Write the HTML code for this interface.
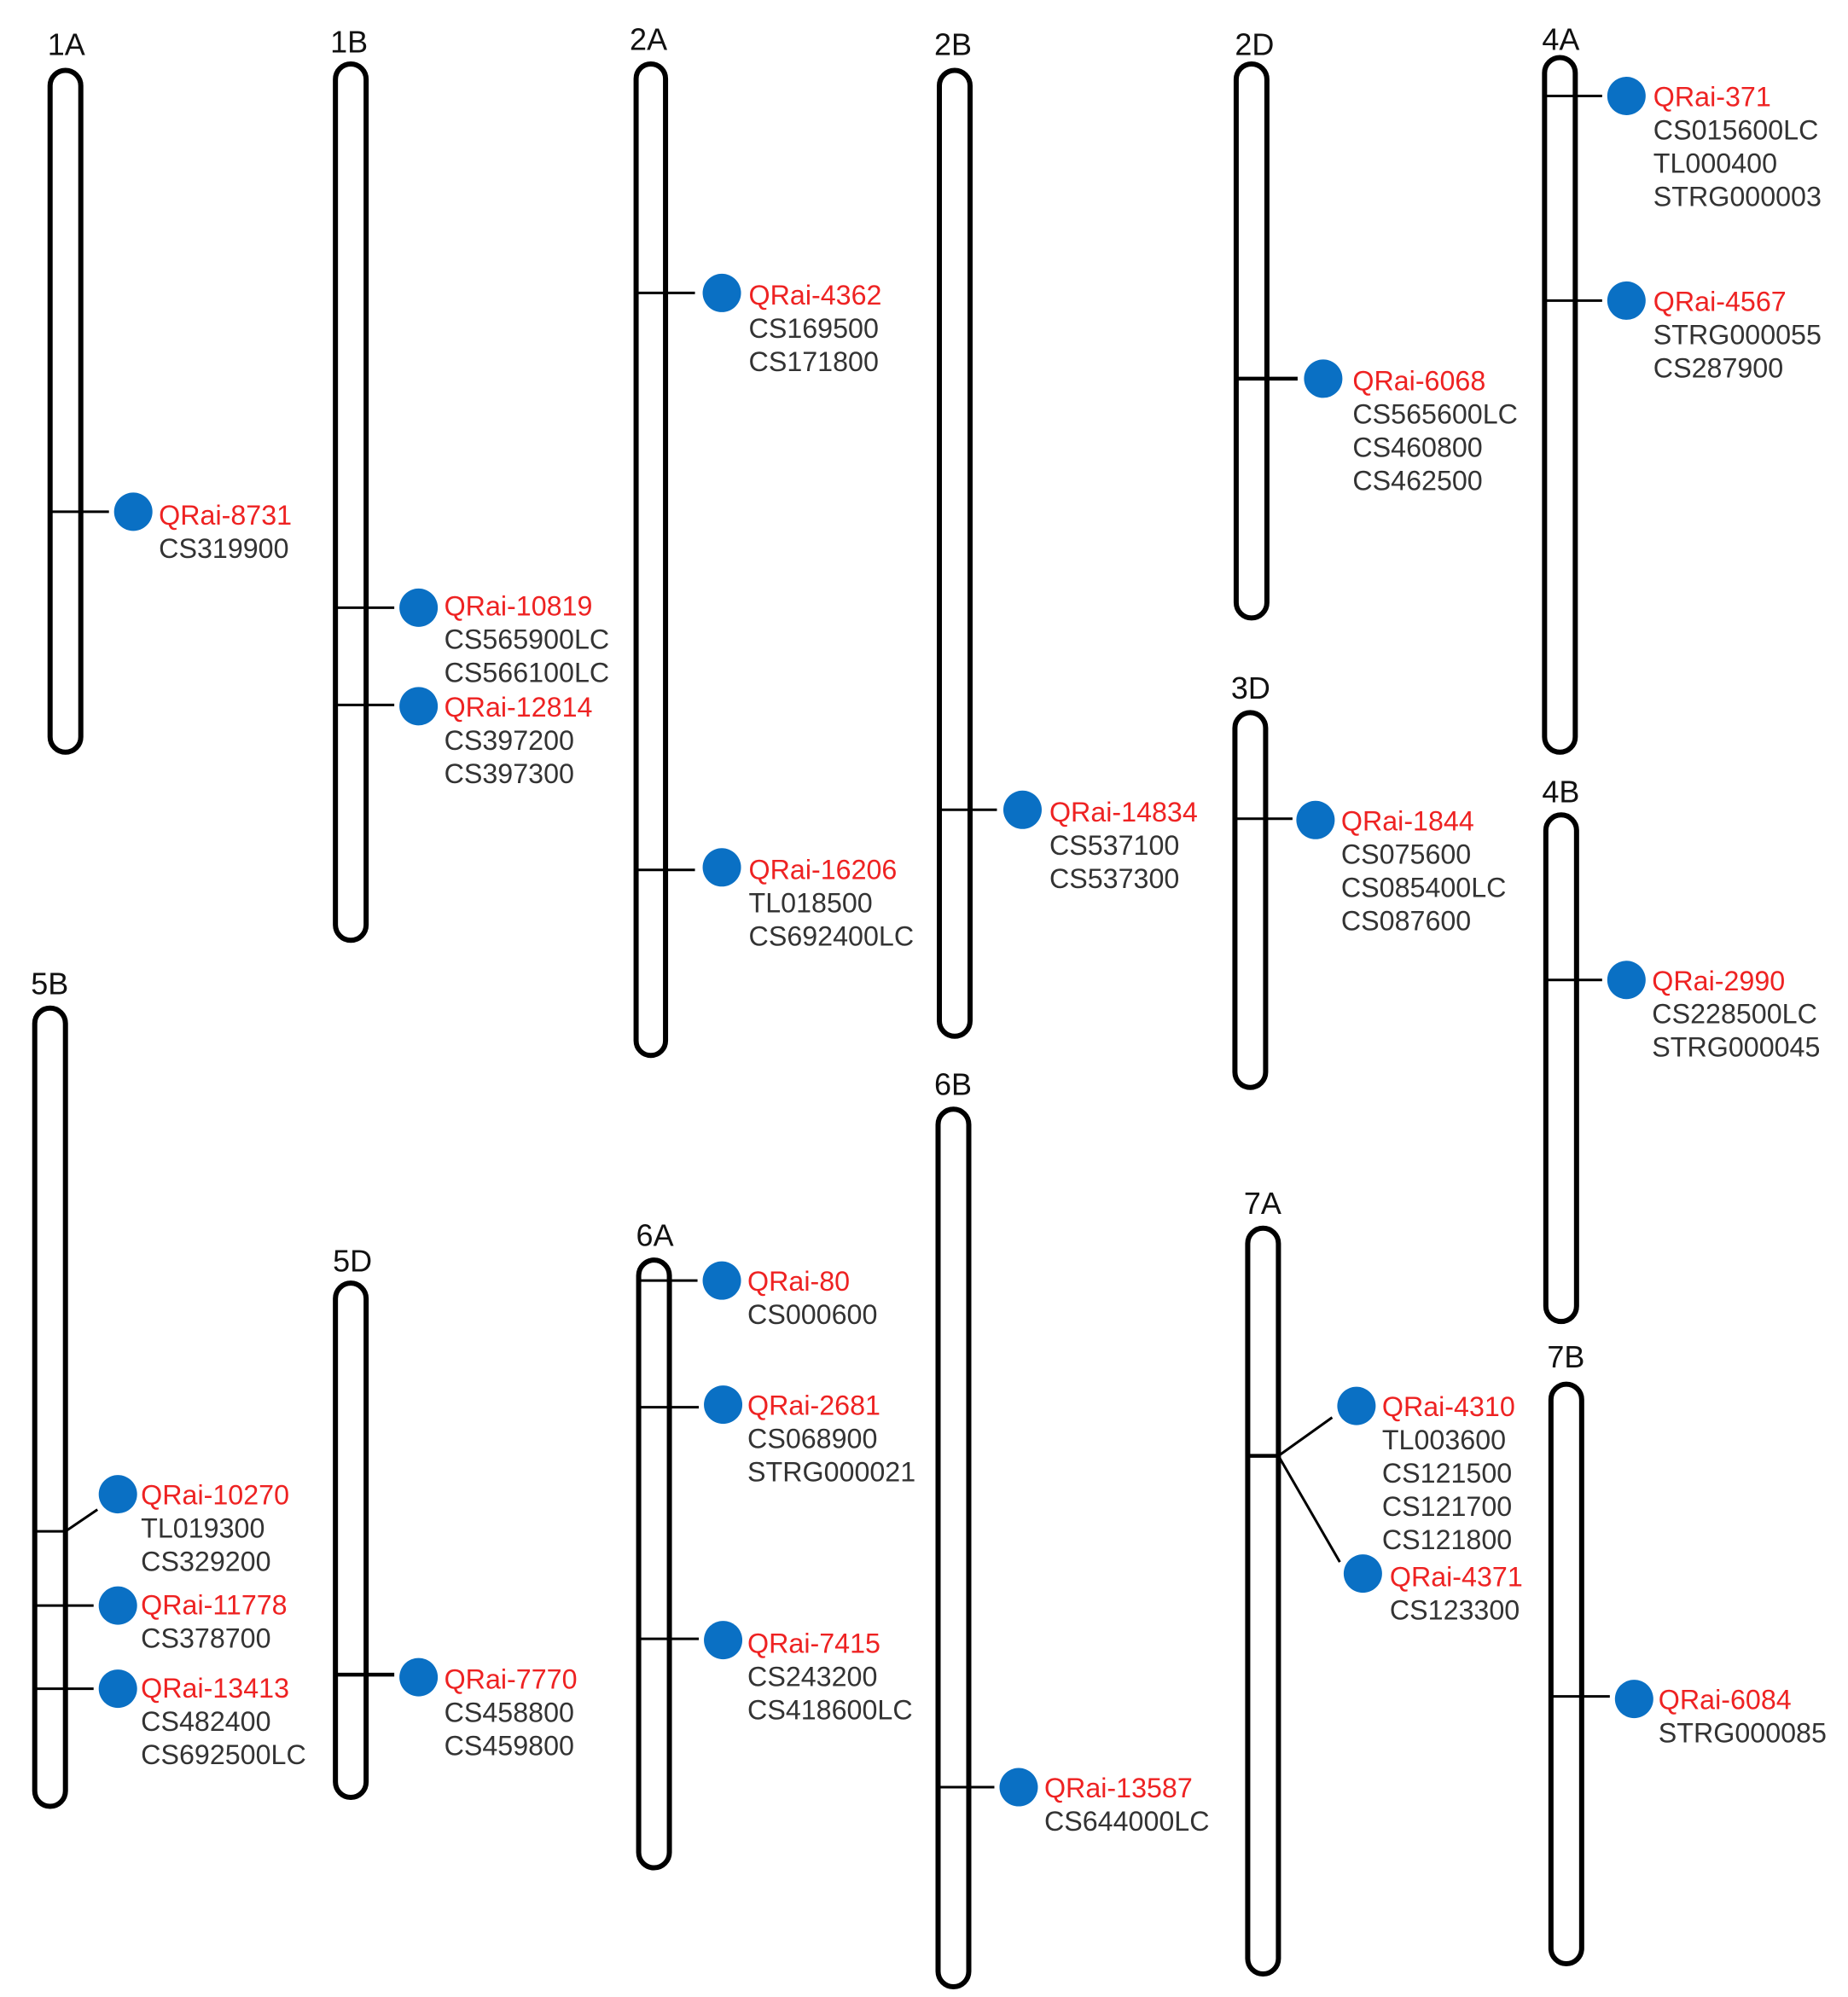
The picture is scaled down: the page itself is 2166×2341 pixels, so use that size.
<!DOCTYPE html>
<html><head><meta charset="utf-8"><style>html,body{margin:0;padding:0;background:#fff}svg{display:block}</style></head>
<body>
<svg xmlns="http://www.w3.org/2000/svg" width="2166" height="2341" viewBox="0 0 1444 1561">
<style>
.c{fill:#fff;stroke:#000;stroke-width:4}
.t{stroke:#000;stroke-width:2;fill:none}
.tb{stroke:#000;stroke-width:3;fill:none}
.d{fill:#0a70c4}
.l{font-family:"Liberation Sans",Arial,sans-serif;font-size:24px;fill:#111}
.r{font-family:"Liberation Sans",Arial,sans-serif;font-size:21.5px;fill:#ee2222}
.g{font-family:"Liberation Sans",Arial,sans-serif;font-size:21.5px;fill:#333}
</style>
<rect class="c" x="39" y="55" width="24" height="533" rx="12"/><text class="l" x="37" y="43">1A</text>
<rect class="c" x="262" y="50" width="24" height="685" rx="12"/><text class="l" x="258" y="41">1B</text>
<rect class="c" x="497" y="50" width="23" height="775" rx="11.5"/><text class="l" x="492" y="39">2A</text>
<rect class="c" x="734" y="55" width="24" height="755" rx="12"/><text class="l" x="730" y="43">2B</text>
<rect class="c" x="966" y="50" width="24" height="433" rx="12"/><text class="l" x="965" y="43">2D</text>
<rect class="c" x="1207" y="45" width="24" height="543" rx="12"/><text class="l" x="1205" y="39">4A</text>
<rect class="c" x="965" y="557" width="24" height="293" rx="12"/><text class="l" x="962" y="546">3D</text>
<rect class="c" x="1208" y="637" width="24" height="396" rx="12"/><text class="l" x="1205" y="627">4B</text>
<rect class="c" x="27" y="788" width="24" height="624" rx="12"/><text class="l" x="24" y="777">5B</text>
<rect class="c" x="262" y="1003" width="24" height="402" rx="12"/><text class="l" x="260" y="994">5D</text>
<rect class="c" x="499" y="985" width="24" height="475" rx="12"/><text class="l" x="497" y="974">6A</text>
<rect class="c" x="733" y="867" width="24" height="686" rx="12"/><text class="l" x="730" y="856">6B</text>
<rect class="c" x="975" y="960" width="24" height="583" rx="12"/><text class="l" x="972" y="949">7A</text>
<rect class="c" x="1212" y="1082" width="24" height="453" rx="12"/><text class="l" x="1209" y="1069">7B</text>

<path class="t" d="M39 400H85"/><circle class="d" cx="104" cy="400" r="15"/>
<text class="r" x="124" y="410">QRai-8731</text><text class="g" x="124" y="436">CS319900</text>
<path class="t" d="M262 475H308"/><circle class="d" cx="327" cy="475" r="15"/>
<text class="r" x="347" y="481">QRai-10819</text><text class="g" x="347" y="507">CS565900LC</text><text class="g" x="347" y="533">CS566100LC</text>
<path class="t" d="M262 551H308"/><circle class="d" cx="327" cy="552" r="15"/>
<text class="r" x="347" y="560">QRai-12814</text><text class="g" x="347" y="586">CS397200</text><text class="g" x="347" y="612">CS397300</text>
<path class="t" d="M497 229H543"/><circle class="d" cx="564" cy="229" r="15"/>
<text class="r" x="585" y="238">QRai-4362</text><text class="g" x="585" y="264">CS169500</text><text class="g" x="585" y="290">CS171800</text>
<path class="t" d="M497 680H543"/><circle class="d" cx="564" cy="678" r="15"/>
<text class="r" x="585" y="687">QRai-16206</text><text class="g" x="585" y="713">TL018500</text><text class="g" x="585" y="739">CS692400LC</text>
<path class="t" d="M734 633H779"/><circle class="d" cx="799" cy="633" r="15"/>
<text class="r" x="820" y="642">QRai-14834</text><text class="g" x="820" y="668">CS537100</text><text class="g" x="820" y="694">CS537300</text>
<path class="tb" d="M966 296H1014"/><circle class="d" cx="1034" cy="296" r="15"/>
<text class="r" x="1057" y="305">QRai-6068</text><text class="g" x="1057" y="331">CS565600LC</text><text class="g" x="1057" y="357">CS460800</text><text class="g" x="1057" y="383">CS462500</text>
<path class="t" d="M1207 75H1252"/><circle class="d" cx="1271" cy="75" r="15"/>
<text class="r" x="1292" y="83">QRai-371</text><text class="g" x="1292" y="109">CS015600LC</text><text class="g" x="1292" y="135">TL000400</text><text class="g" x="1292" y="161">STRG000003</text>
<path class="t" d="M1207 235H1252"/><circle class="d" cx="1271" cy="235" r="15"/>
<text class="r" x="1292" y="243">QRai-4567</text><text class="g" x="1292" y="269">STRG000055</text><text class="g" x="1292" y="295">CS287900</text>
<path class="t" d="M965 640H1010"/><circle class="d" cx="1028" cy="641" r="15"/>
<text class="r" x="1048" y="649">QRai-1844</text><text class="g" x="1048" y="675">CS075600</text><text class="g" x="1048" y="701">CS085400LC</text><text class="g" x="1048" y="727">CS087600</text>
<path class="t" d="M1208 766H1252"/><circle class="d" cx="1271" cy="766" r="15"/>
<text class="r" x="1291" y="774">QRai-2990</text><text class="g" x="1291" y="800">CS228500LC</text><text class="g" x="1291" y="826">STRG000045</text>
<path class="t" d="M27 1197H51L76 1180"/><circle class="d" cx="92" cy="1168" r="15"/>
<text class="r" x="110" y="1176">QRai-10270</text><text class="g" x="110" y="1202">TL019300</text><text class="g" x="110" y="1228">CS329200</text>
<path class="t" d="M27 1255H73"/><circle class="d" cx="92" cy="1255" r="15"/>
<text class="r" x="110" y="1262">QRai-11778</text><text class="g" x="110" y="1288">CS378700</text>
<path class="t" d="M27 1320H73"/><circle class="d" cx="92" cy="1320" r="15"/>
<text class="r" x="110" y="1327">QRai-13413</text><text class="g" x="110" y="1353">CS482400</text><text class="g" x="110" y="1379">CS692500LC</text>
<path class="tb" d="M262 1309H308"/><circle class="d" cx="327" cy="1311" r="15"/>
<text class="r" x="347" y="1320">QRai-7770</text><text class="g" x="347" y="1346">CS458800</text><text class="g" x="347" y="1372">CS459800</text>
<path class="t" d="M499 1001H545"/><circle class="d" cx="564" cy="1001" r="15"/>
<text class="r" x="584" y="1009">QRai-80</text><text class="g" x="584" y="1035">CS000600</text>
<path class="t" d="M499 1100H546"/><circle class="d" cx="565" cy="1098" r="15"/>
<text class="r" x="584" y="1106">QRai-2681</text><text class="g" x="584" y="1132">CS068900</text><text class="g" x="584" y="1158">STRG000021</text>
<path class="t" d="M499 1281H546"/><circle class="d" cx="565" cy="1282" r="15"/>
<text class="r" x="584" y="1292">QRai-7415</text><text class="g" x="584" y="1318">CS243200</text><text class="g" x="584" y="1344">CS418600LC</text>
<path class="t" d="M733 1397H777"/><circle class="d" cx="796" cy="1397" r="15"/>
<text class="r" x="816" y="1405">QRai-13587</text><text class="g" x="816" y="1431">CS644000LC</text>
<path class="tb" d="M975 1138H999"/>
<path class="t" d="M999 1138L1041 1108M999 1138L1047 1221"/>
<circle class="d" cx="1060" cy="1099" r="15"/>
<text class="r" x="1080" y="1107">QRai-4310</text><text class="g" x="1080" y="1133">TL003600</text><text class="g" x="1080" y="1159">CS121500</text><text class="g" x="1080" y="1185">CS121700</text><text class="g" x="1080" y="1211">CS121800</text>
<circle class="d" cx="1065" cy="1230" r="15"/>
<text class="r" x="1086" y="1240">QRai-4371</text><text class="g" x="1086" y="1266">CS123300</text>
<path class="t" d="M1212 1326H1258"/><circle class="d" cx="1277" cy="1328" r="15"/>
<text class="r" x="1296" y="1336">QRai-6084</text><text class="g" x="1296" y="1362">STRG000085</text>
</svg>
</body></html>
